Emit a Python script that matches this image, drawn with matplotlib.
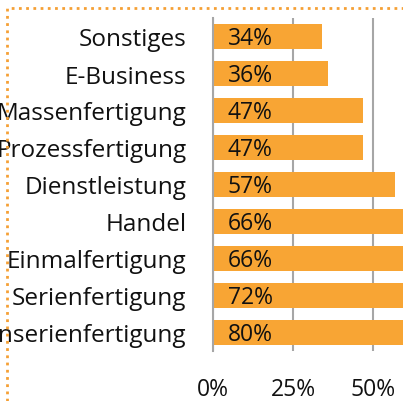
import matplotlib.pyplot as plt
from matplotlib.patches import Rectangle

# data (top to bottom as drawn)
categories = ["Sonstiges", "E-Business", "Massenfertigung", "Prozessfertigung",
              "Dienstleistung", "Handel", "Einmalfertigung", "Serienfertigung",
              "Kleinserienfertigung"]
values = [34, 36, 47, 47, 57, 66, 66, 72, 80]
xticks = [0, 25, 50]
xtick_labels = ["0%", "25%", "50%"]

plt.rcParams["font.family"] = ["Open Sans", "DejaVu Sans"]

W, H = 403, 402
fig = plt.figure(figsize=(W / 100, H / 100), dpi=100)

# axes extends past the right edge of the figure (cropped chart)
left, right, top, bottom = 213, 533, 19, 352
ax = fig.add_axes([left / W, 1 - bottom / H, (right - left) / W, (bottom - top) / H])

ypos = list(range(len(categories)))
ax.barh(ypos, values, height=0.68, color="#F8A534", zorder=2)
for y, v in zip(ypos, values):
    ax.text(4.6, y + 0.04, f"{v}%", va="center", ha="left", fontsize=16.5,
            color="#111111", zorder=3)

ax.set_xlim(0, 100)
ax.set_ylim(len(categories) - 0.5, -0.5)
ax.set_yticks(ypos)
ax.set_yticklabels(categories, fontsize=17.5, color="#111111")
ax.set_xticks(xticks)
ax.set_xticklabels(xtick_labels, fontsize=16.5, color="#111111")
ax.tick_params(axis="both", length=0)
ax.tick_params(axis="y", pad=19)
ax.tick_params(axis="x", pad=19)
ax.grid(axis="x", color="#A6A6A6", linewidth=1.5, zorder=1)
for s in ["top", "right", "bottom"]:
    ax.spines[s].set_visible(False)
ax.spines["left"].set_color("#A6A6A6")
ax.spines["left"].set_linewidth(1.5)
# remaining gridlines beyond the visible area
for gx in [75, 100]:
    ax.axvline(gx, color="#A6A6A6", linewidth=1.5, zorder=1)

# dotted frame around the chart area
fig.patches.append(Rectangle((7 / W, -0.1), 1.2, 1 - 9 / H + 0.1, transform=fig.transFigure,
                             fill=False, edgecolor="#F5A035", linestyle=(0, (1, 1.6)),
                             linewidth=2, clip_on=False))

fig.savefig("out.png", dpi=100)
